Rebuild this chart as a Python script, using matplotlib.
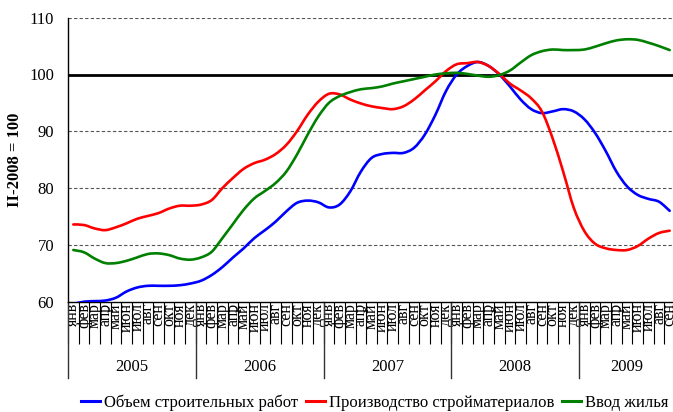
import matplotlib
matplotlib.use("Agg")
import matplotlib.pyplot as plt
import numpy as np
from matplotlib.path import Path
from matplotlib.patches import PathPatch
from matplotlib.lines import Line2D
import matplotlib.transforms as mtransforms

plt.rcParams["font.family"] = ["Liberation Serif", "DejaVu Serif"]

# ---------------------------------------------------------------------------
# Data: monthly index, II-2008 = 100, Jan 2005 .. Sep 2009
# ---------------------------------------------------------------------------
month_names = ["янв", "фев", "мар", "апр", "май", "июн",
               "июл", "авг", "сен", "окт", "ноя", "дек"]
years = ["2005", "2006", "2007", "2008", "2009"]
months_per_year = [12, 12, 12, 12, 9]

construction = [
    59.6, 60.0, 60.1, 60.2, 60.7, 61.8, 62.5, 62.8, 62.8, 62.8, 62.9, 63.2,
    63.7, 64.7, 66.1, 67.8, 69.4, 71.2, 72.6, 74.1, 75.9, 77.4, 77.8, 77.5,
    76.6, 77.1, 79.4, 82.9, 85.3, 86.0, 86.2, 86.2, 87.1, 89.4, 92.9, 97.1,
    100.0, 101.5, 102.2, 101.5, 100.0, 97.9, 95.6, 93.9, 93.2, 93.5, 93.9, 93.5,
    92.1, 89.7, 86.5, 82.9, 80.3, 78.8, 78.1, 77.6, 76.0,
]
materials = [
    73.6, 73.5, 72.9, 72.6, 73.1, 73.8, 74.6, 75.1, 75.6, 76.4, 76.9, 76.9,
    77.1, 77.9, 80.0, 81.8, 83.4, 84.4, 85.0, 86.0, 87.6, 90.0, 92.9, 95.2,
    96.6, 96.5, 95.6, 94.9, 94.4, 94.1, 93.9, 94.4, 95.6, 97.2, 98.8, 100.6,
    101.8, 102.0, 102.2, 101.5, 100.1, 98.4, 97.2, 95.8, 93.5, 88.8, 82.9, 76.5,
    72.4, 70.2, 69.4, 69.1, 69.1, 69.8, 71.1, 72.1, 72.5,
]
housing = [
    69.1, 68.7, 67.6, 66.8, 66.8, 67.2, 67.8, 68.4, 68.5, 68.2, 67.6, 67.4,
    67.8, 68.8, 71.2, 73.7, 76.2, 78.2, 79.5, 80.9, 82.9, 85.9, 89.4, 92.6,
    95.0, 96.2, 96.9, 97.4, 97.6, 97.9, 98.4, 98.8, 99.2, 99.6, 100.0, 100.2,
    100.3, 100.1, 99.8, 99.6, 99.9, 100.7, 102.1, 103.4, 104.1, 104.4, 104.3, 104.3,
    104.4, 104.9, 105.5, 106.0, 106.2, 106.1, 105.6, 105.0, 104.3,
]

series_names = ["Объем строительных работ", "Производство стройматериалов", "Ввод жилья"]
series_colors = ["#0000FF", "#FF0000", "#008000"]


def smooth_path(x, y):
    """Excel-like smoothed line as cubic Bezier segments (Catmull-Rom control points)."""
    pts = np.column_stack([x, y]).astype(float)
    ext = np.vstack([pts[0], pts, pts[-1]])
    verts = [pts[0]]
    codes = [Path.MOVETO]
    for i in range(len(pts) - 1):
        p0, p1, p2, p3 = ext[i], ext[i + 1], ext[i + 2], ext[i + 3]
        verts += [p1 + (p2 - p0) / 6.0, p2 - (p3 - p1) / 6.0, p2]
        codes += [Path.CURVE4] * 3
    return Path(verts, codes)


n = sum(months_per_year)
xc = np.arange(n) + 0.5

fig = plt.figure(figsize=(6.73, 4.12), dpi=100)
ax = fig.add_axes([68 / 673, 110.3 / 412, 607 / 673, 284 / 412])
ax.set_xlim(0, n)
ax.set_ylim(60, 110)

for v in (70, 80, 90, 110):
    ax.axhline(v, color="#555555", lw=0.8, ls=(0, (3, 2)), zorder=1)
ax.axhline(100, color="black", lw=2.0, zorder=2)

for vals, col in zip([construction, materials, housing], series_colors):
    ax.add_patch(PathPatch(smooth_path(xc, vals), fill=False, edgecolor=col,
                           lw=1.9, zorder=3, capstyle="round", joinstyle="round"))

ax.set_yticks([60, 70, 80, 90, 100, 110])
ax.tick_params(axis="y", length=0, pad=10, labelsize=12)
ax.set_ylabel("II-2008 = 100", fontsize=12, fontweight="bold")
ax.yaxis.set_label_coords(-0.074, 0.5)

for s in ("top", "right"):
    ax.spines[s].set_visible(False)
ax.spines["left"].set_linewidth(1.0)
ax.spines["bottom"].set_linewidth(1.0)

# month boundary ticks and labels
labels = []
for cnt in months_per_year:
    labels += month_names[:cnt]
ax.set_xticks(np.arange(n + 1))
ax.set_xticklabels([])
ax.tick_params(axis="x", which="major", direction="out", length=30, width=0.8,
               color="black")
ax.set_xticks(xc, labels, minor=True)
ax.tick_params(axis="x", which="minor", length=0, pad=1, labelsize=11.5,
               labelrotation=90)

# year separators and labels below the month labels
trans = mtransforms.blended_transform_factory(ax.transData, ax.transAxes)
start = 0
for yr, cnt in zip(years, months_per_year):
    ax.plot([start, start], [0, -0.267], transform=trans, color="#333333",
            lw=1.0, clip_on=False)
    ax.text(start + cnt / 2, -0.23, yr, transform=trans, ha="center",
            va="center", fontsize=12)
    start += cnt

handles = [Line2D([], [], color=c, lw=2.2) for c in series_colors]
fig.legend(handles, series_names, loc="center", bbox_to_anchor=(0.557, 0.022),
           ncol=3, frameon=False, fontsize=12, handlelength=1.1,
           handletextpad=0.25, columnspacing=0.5, borderaxespad=0)

fig.savefig("out.png", dpi=100)
